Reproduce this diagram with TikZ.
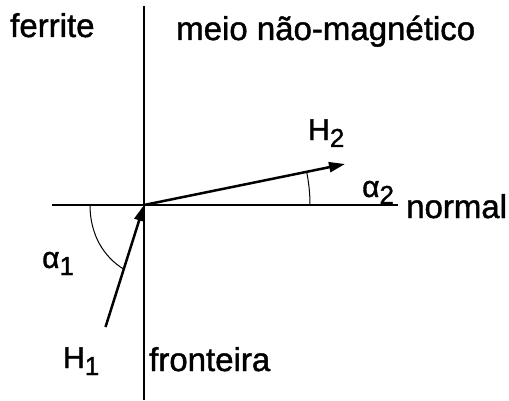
\documentclass[tikz,border=0pt]{standalone}
\usepackage{fontspec}
\setmainfont{Liberation Sans}[FakeBold=1.3]
\usetikzlibrary{arrows.meta}
\newcommand{\sbx}[1]{\raisebox{-7pt}{\fontsize{26}{30}\selectfont #1}}
\begin{document}
\begin{tikzpicture}[x=1pt,y=1pt,
  axis/.style={line width=2.8pt},
  vec/.style={line width=2.5pt,-{Triangle[length=16pt,width=10pt]}},
  angarc/.style={line width=1pt},
  lbl/.style={inner sep=0pt,anchor=base west,font=\fontsize{33}{38}\selectfont},
  sym/.style={inner sep=0pt,anchor=base west,font=\fontsize{30}{36}\selectfont}]
\useasboundingbox (0,0) rectangle (509,400);
\coordinate (O) at (144,195);
\coordinate (top) at (144,394);
\coordinate (bot) at (144,0);
\coordinate (left) at (52,195);
\coordinate (right) at (398,195);
\coordinate (t1) at (105.5,73);
\coordinate (h2) at (345,236);
\coordinate (a1s) at (90,195);
\coordinate (a1e) at (123.5,131);
\draw[axis] (top) -- (bot);
\draw[axis] (left) -- (right);
\draw[vec] (t1) -- (O);
\draw[vec] (O) -- (h2);
\draw[angarc] (a1s) .. controls (90,165) and (104,143) .. (a1e);
\draw[angarc] (O) ++(0:166) arc[start angle=0,end angle=11.6,radius=166];
\node[lbl] (ferrite) at (10,363) {ferrite};
\node[lbl] (meio) at (176,360) {meio não-magnético};
\node[sym] (H2) at (308,260) {H\sbx{2}};
\node[sym] (al2) at (362,203) {α\sbx{2}};
\node[lbl] (normal) at (406,182) {normal};
\node[sym] (al1) at (42,132) {α\sbx{1}};
\node[sym] (H1) at (63,32) {H\sbx{1}};
\node[lbl] (front) at (149,29) {fronteira};
\end{tikzpicture}
\end{document}
